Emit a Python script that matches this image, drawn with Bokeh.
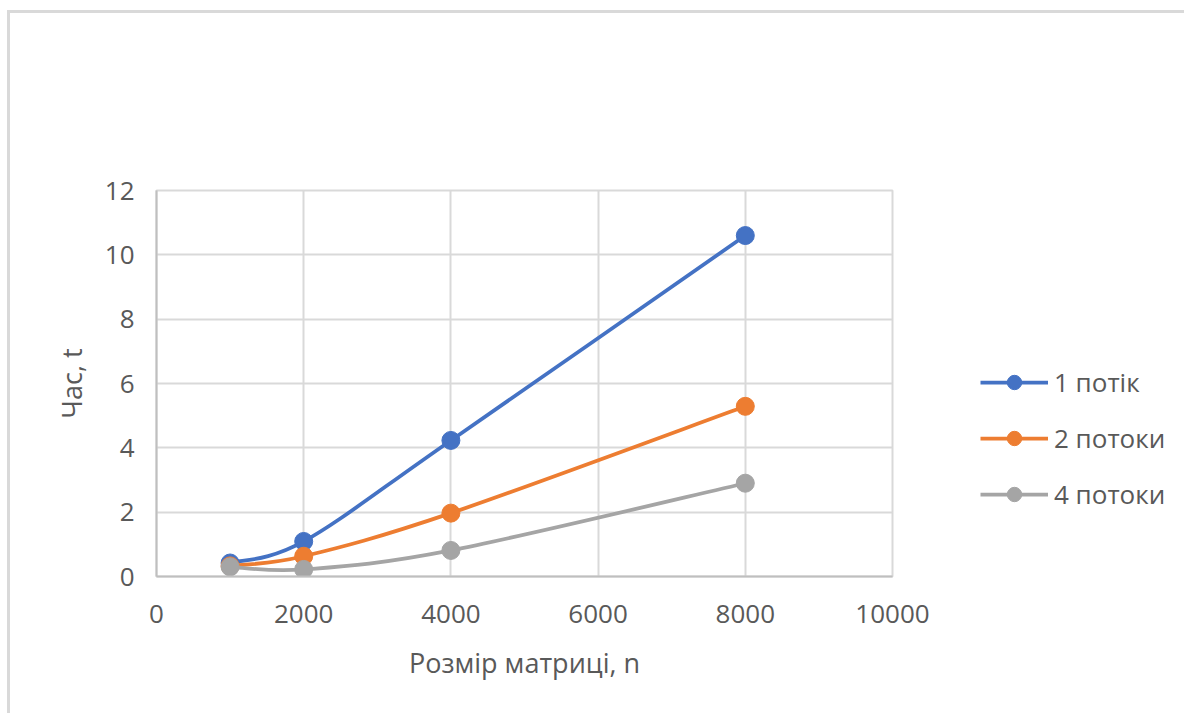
import numpy as np
from bokeh.plotting import figure
from bokeh.models import Range1d, Legend, LegendItem, FixedTicker
from bokeh.embed import file_html
from bokeh.resources import INLINE

# ---- data ----
matrix_sizes = [1000, 2000, 4000, 8000]
time_1_thread = [0.42, 1.09, 4.23, 10.60]
time_2_threads = [0.33, 0.63, 1.97, 5.29]
time_4_threads = [0.30, 0.22, 0.81, 2.90]
series_names = ["1 потік", "2 потоки", "4 потоки"]
series_colors = ["#4472C4", "#ED7D31", "#A5A5A5"]
x_ticks = [0, 2000, 4000, 6000, 8000, 10000]
y_ticks = [0, 2, 4, 6, 8, 10, 12]
x_title = "Розмір матриці, n"
y_title = "Час, t"

FONT = "Open Sans"
TXT = "#595959"
GRID = "#d9d9d9"

p = figure(frame_width=736, frame_height=386, output_backend="svg", toolbar_location=None,
           x_range=Range1d(0, 10000), y_range=Range1d(0, 12),
           min_border_left=146, min_border_right=0,
           min_border_top=177, min_border_bottom=137)
p.styles = {"border-top": "3px solid #d9d9d9", "border-left": "3px solid #d9d9d9",
            "margin-top": "10px", "margin-left": "7px"}
p.background_fill_color = "white"
p.border_fill_color = "white"
p.outline_line_color = GRID
p.outline_line_width = 2

for ax, ticks in ((p.xaxis[0], x_ticks), (p.yaxis[0], y_ticks)):
    ax.ticker = FixedTicker(ticks=ticks)
    ax.major_tick_in = 0
    ax.major_tick_out = 0
    ax.minor_tick_in = 0
    ax.minor_tick_out = 0
    ax.axis_line_color = "#bfbfbf"
    ax.axis_line_width = 2
    ax.major_label_text_font = FONT
    ax.major_label_text_font_size = "26px"
    ax.major_label_text_color = TXT
    ax.axis_label_text_font = FONT
    ax.axis_label_text_font_size = "27px"
    ax.axis_label_text_font_style = "normal"
    ax.axis_label_text_color = TXT

p.xaxis.axis_label = x_title
p.yaxis.axis_label = y_title
p.xaxis.major_label_standoff = 28
p.yaxis.major_label_standoff = 22
p.xaxis.axis_label_standoff = 18
p.yaxis.axis_label_standoff = 12

p.xgrid.ticker = FixedTicker(ticks=x_ticks)
p.ygrid.ticker = FixedTicker(ticks=y_ticks)
p.grid.grid_line_color = GRID
p.grid.grid_line_width = 2


def smooth_controls(xs, ys):
    """Excel-like Catmull-Rom -> cubic Bezier control points."""
    xs = np.asarray(xs, float)
    ys = np.asarray(ys, float)
    n = len(xs)
    x0, y0, x1, y1, cx0, cy0, cx1, cy1 = ([] for _ in range(8))
    for i in range(n - 1):
        im1 = max(i - 1, 0)
        ip2 = min(i + 2, n - 1)
        x0.append(xs[i]); y0.append(ys[i])
        x1.append(xs[i + 1]); y1.append(ys[i + 1])
        cx0.append(xs[i] + (xs[i + 1] - xs[im1]) / 6)
        cy0.append(ys[i] + (ys[i + 1] - ys[im1]) / 6)
        cx1.append(xs[i + 1] - (xs[ip2] - xs[i]) / 6)
        cy1.append(ys[i + 1] - (ys[ip2] - ys[i]) / 6)
    return dict(x0=x0, y0=y0, x1=x1, y1=y1, cx0=cx0, cy0=cy0, cx1=cx1, cy1=cy1)


items = []
for name, vals, col in zip(series_names, [time_1_thread, time_2_threads, time_4_threads], series_colors):
    d = smooth_controls(matrix_sizes, vals)
    p.bezier(x0=d["x0"], y0=d["y0"], x1=d["x1"], y1=d["y1"],
             cx0=d["cx0"], cy0=d["cy0"], cx1=d["cx1"], cy1=d["cy1"],
             line_color=col, line_width=3.75)
    sc = p.scatter(matrix_sizes, vals, size=18, fill_color=col, line_color=col)
    # one-point line: draws nothing on the plot, only serves the legend glyph
    proxy = p.line(matrix_sizes[:1], vals[:1], line_color=col, line_width=3.75)
    items.append(LegendItem(label=name, renderers=[proxy, sc]))

legend = Legend(items=items, location=(88, 64), orientation="vertical",
                glyph_width=68, glyph_height=36, label_height=36,
                spacing=20, padding=0, margin=0, label_standoff=6,
                label_text_font=FONT, label_text_font_size="26px",
                label_text_color=TXT, border_line_color=None,
                background_fill_alpha=0)
p.add_layout(legend, "right")

open("out.html", "w").write(file_html(p, INLINE))
